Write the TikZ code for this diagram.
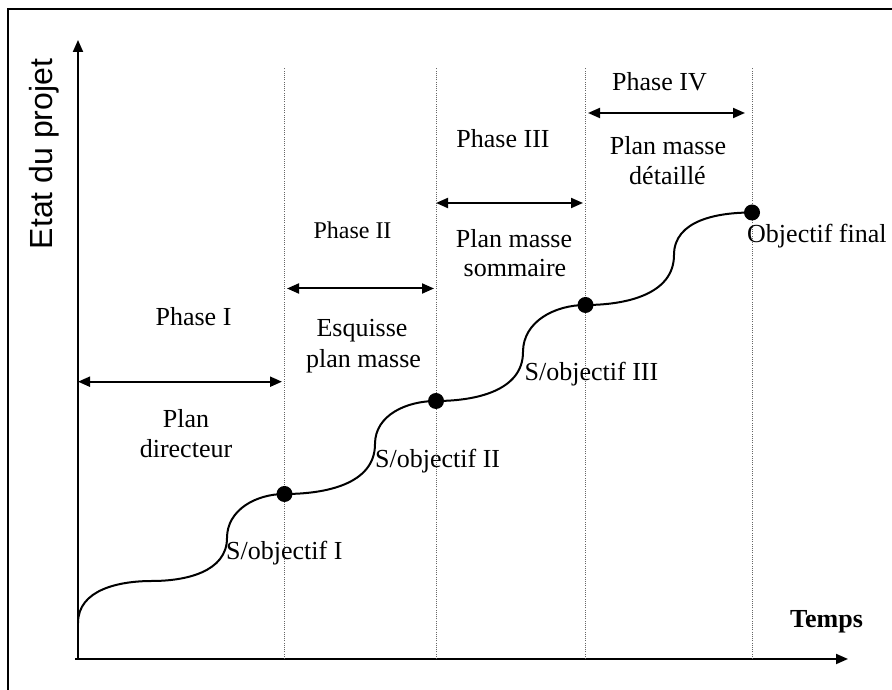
\documentclass[tikz,border=0pt]{standalone}
\usepackage{fontspec}
\setmainfont{Liberation Serif}
\newfontfamily\lsans{Liberation Sans}
\usetikzlibrary{arrows.meta}
\begin{document}
\begin{tikzpicture}[x=1pt,y=1pt,
  axis/.style={line width=1.9pt,-{Triangle[length=12pt,width=10pt]}},
  span/.style={line width=2pt,{Triangle[length=12pt,width=10pt]}-{Triangle[length=12pt,width=10pt]}},
  sep/.style={line width=0.9pt,gray!80!black,dash pattern=on 1pt off 1.2pt},
  lbl/.style={font=\fontsize{26}{30}\selectfont,anchor=base,inner sep=0pt},
  lbll/.style={lbl,anchor=base west},
  dot/.style={circle,fill=black,inner sep=0pt,minimum size=16pt}]
\useasboundingbox (0,0) rectangle (892,690);
% frame
\draw[line width=2.2pt] (8,0) -- (8,681) -- (892,681);
% axes
\coordinate (O) at (78,31);
\coordinate (Ytop) at (78,650);
\coordinate (Xl) at (75,31);
\coordinate (Xr) at (848,31);
\draw[axis] (O) -- (Ytop);
\draw[axis] (Xl) -- (Xr);
% separators
\foreach \n/\x in {1/284.5,2/436,3/585.5,4/752}{
  \coordinate (s\n t) at (\x,622);
  \coordinate (s\n b) at (\x,31);
  \draw[sep] (s\n b) -- (s\n t);
}
% curve
\coordinate (c0) at (78,67);
\coordinate (p0) at (152,109);
\coordinate (i1) at (227,152);
\coordinate (i2) at (375,246);
\coordinate (i3) at (523,338);
\coordinate (i4) at (674,435);
\draw[line width=2pt] (c0) to[out=90,in=180] (p0)
  to[out=0,in=-90] (i1) to[out=90,in=180] (284.5,196)
  to[out=0,in=-90] (i2) to[out=90,in=180] (436,289)
  to[out=0,in=-90] (i3) to[out=90,in=180] (585.5,385)
  to[out=0,in=-90] (i4) to[out=90,in=180] (752,477.5);
\node[dot] (d1) at (284.5,196) {};
\node[dot] (d2) at (436,289) {};
\node[dot] (d3) at (585.5,385) {};
\node[dot] (d4) at (752,477.5) {};
% phase spans
\coordinate (a1l) at (78,308.3);  \coordinate (a1r) at (282,308.3);
\coordinate (a2l) at (287,401.5); \coordinate (a2r) at (434,401.5);
\coordinate (a3l) at (436,487);   \coordinate (a3r) at (583,487);
\coordinate (a4l) at (588,577);   \coordinate (a4r) at (745,577);
\draw[span] (a1l) -- (a1r);
\draw[span] (a2l) -- (a2r);
\draw[span] (a3l) -- (a3r);
\draw[span] (a4l) -- (a4r);
% texts
\node[lbl] (ph1) at (193.5,364) {Phase I};
\node[lbl] (pd1) at (186,262) {Plan};
\node[lbl] (pd2) at (186,232) {directeur};
\node[lbl,font=\fontsize{24}{28}\selectfont] (ph2) at (352.5,451) {Phase II};
\node[lbl] (es1) at (362,353) {Esquisse};
\node[lbl] (es2) at (363.5,322) {plan masse};
\node[lbl] (ph3) at (503,542.5) {Phase III};
\node[lbl] (pm1) at (514,442) {Plan masse};
\node[lbl] (pm2) at (515,413) {sommaire};
\node[lbl] (ph4) at (659.5,599) {Phase IV};
\node[lbl] (pt1) at (668,535) {Plan masse};
\node[lbl] (pt2) at (667.5,505) {détaillé};
\node[lbll] (of) at (747,447) {Objectif final};
\node[lbll] (so1) at (226,130) {S/objectif I};
\node[lbll] (so2) at (375,222) {S/objectif II};
\node[lbll] (so3) at (524.5,309) {S/objectif III};
\node[lbll,font=\fontsize{26}{30}\selectfont\bfseries] (tp) at (790,62) {Temps};
\node[rotate=90,anchor=base,inner sep=0pt,font=\lsans\fontsize{32}{36}\selectfont] (ey) at (52,536) {Etat du projet};
\end{tikzpicture}
\end{document}
